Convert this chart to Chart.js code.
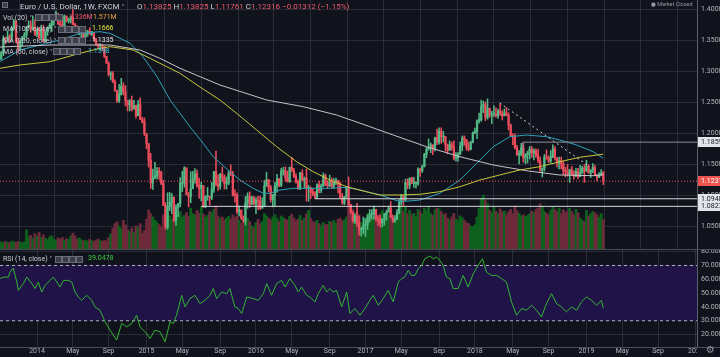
<!DOCTYPE html>
<html><head><meta charset="utf-8">
<script src="https://cdn.jsdelivr.net/npm/chart.js@4.4.0/dist/chart.umd.min.js"></script>
<style>
html,body{margin:0;padding:0;background:#11131c;}
#wrap{position:relative;width:720px;height:357px;overflow:hidden;background:#11131c;font-family:Roboto,"DejaVu Sans",sans-serif;}
canvas{position:absolute;left:0;}
#c1{top:0}
#c2{top:250px}
.t{position:absolute;white-space:nowrap;font-size:7px;line-height:9px;color:#c9ccd4;}
.b{position:absolute;width:5px;height:5px;background:#3b3e49;border:1px solid #6a6d78;}
.r{color:#f05a6a}
</style></head>
<body><div id="wrap">
<canvas id="c1" width="720" height="250"></canvas>
<canvas id="c2" width="720" height="107"></canvas>

<div class="b" style="left:2px;top:2px;width:4px;height:4px"></div>
<div class="t" style="left:20px;top:2px;font-size:8px;color:#d1d4dc">Euro / U.S. Dollar, 1W, FXCM <span style="font-size:6px">˅</span></div>
<div class="t" style="left:137px;top:2px;font-size:8px;color:#d1d4dc">O<span class="r">1.13825</span> H<span class="r">1.13825</span> L<span class="r">1.11761</span> C<span class="r">1.12316</span> <span class="r">−0.01312 (−1.15%)</span></div>
<div class="t" style="left:651px;top:0px;font-size:5.5px;color:#9598a1">● Market Closed</div>

<div class="t" style="left:3px;top:12.5px">Vol (20) <span style="font-size:6px">˅</span></div>
<div class="b" style="left:35px;top:14px"></div><div class="b" style="left:42px;top:14px"></div><div class="b" style="left:49px;top:14px"></div><div class="b" style="left:56px;top:14px"></div>
<div class="t r" style="left:69px;top:12.5px">1.336M</div>
<div class="t" style="left:93px;top:12.5px;color:#e8a33c">1.571M</div>

<div class="t" style="left:3px;top:24px">MA (100, close) <span style="font-size:6px">˅</span></div>
<div class="b" style="left:58px;top:25.5px"></div><div class="b" style="left:65px;top:25.5px"></div><div class="b" style="left:72px;top:25.5px"></div><div class="b" style="left:79px;top:25.5px"></div>
<div class="t" style="left:92px;top:24px;color:#e6e63a">1.1666</div>

<div class="t" style="left:3px;top:35.5px">MA (200, close) <span style="font-size:6px">˅</span></div>
<div class="b" style="left:58px;top:37px"></div><div class="b" style="left:65px;top:37px"></div><div class="b" style="left:72px;top:37px"></div><div class="b" style="left:79px;top:37px"></div>
<div class="t" style="left:92px;top:35.5px;color:#e8e8e8">1.1335</div>

<div class="t" style="left:3px;top:46.5px">MA (50, close) <span style="font-size:6px">˅</span></div>
<div class="b" style="left:53px;top:48px"></div><div class="b" style="left:60px;top:48px"></div><div class="b" style="left:67px;top:48px"></div><div class="b" style="left:74px;top:48px"></div>
<div class="t" style="left:88px;top:46.5px;color:#3cc6e0">1.1598</div>

<div class="t" style="left:3px;top:254px">RSI (14, close) <span style="font-size:6px">˅</span></div>
<div class="b" style="left:55px;top:255.5px"></div><div class="b" style="left:62px;top:255.5px"></div><div class="b" style="left:69px;top:255.5px"></div><div class="b" style="left:76px;top:255.5px"></div>
<div class="t" style="left:88px;top:254px;color:#3ccc3c">39.0478</div>
<div class="t" style="left:706px;top:345px;font-size:10px;color:#9598a1">⚙</div>
</div>
<script>
// ---------- DATA ----------
const firstWeek = -17; // week index of first candle (weeks counted from 6 Jan 2014)
const opens = [1.3190,1.3296,1.3525,1.3524,1.3555,1.3545,1.3685,1.3805,1.3485,1.3365,1.3495,1.3555,1.3590,1.3705,1.3740,1.3675,1.3705,
1.3590,1.3670,1.3540,1.3680,1.3485,1.3635,1.3690,1.3740,1.3805,1.3910,1.3915,1.3760,1.3750,1.3705,1.3890,1.3810,1.3830,1.3870,1.3755,1.3695,1.3630,1.3635,1.3645,1.3545,1.3605,1.3645,1.3595,1.3605,1.3525,1.3430,1.3410,1.3410,1.3400,1.3240,1.3130,1.2950,1.2965,1.2830,1.2685,1.2525,1.2630,1.2760,1.2670,1.2525,1.2455,1.2525,1.2390,1.2450,1.2285,1.2465,1.2225,1.2190,
1.2000,1.1840,1.1565,1.1205,1.1290,1.1315,1.1390,1.1380,1.1195,1.0840,1.0495,1.0825,1.0890,1.0970,1.0600,1.0810,1.0870,1.1200,1.1200,1.1445,1.1015,1.0985,1.1110,1.1265,1.1350,1.1165,1.1110,1.1165,1.0830,1.0985,1.0985,1.0965,1.1105,1.1385,1.1185,1.1150,1.1340,1.1295,1.1195,1.1205,1.1360,1.1350,1.1015,1.1005,1.0740,1.0770,1.0645,1.0590,1.0880,1.0990,1.0865,1.0965,
1.0865,1.0925,1.0915,1.0795,1.0830,1.1155,1.1255,1.1130,1.0935,1.1005,1.1155,1.1270,1.1165,1.1390,1.1400,1.1285,1.1225,1.1455,1.1405,1.1310,1.1225,1.1115,1.1365,1.1255,1.1275,1.1115,1.1135,1.1050,1.1040,1.0975,1.1175,1.1085,1.1160,1.1325,1.1185,1.1155,1.1235,1.1155,1.1225,1.1240,1.1200,1.0970,1.0880,1.0985,1.1140,1.0855,1.0735,1.0590,1.0665,1.0565,1.0450,1.0455,
1.0520,1.0535,1.0645,1.0700,1.0700,1.0780,1.0640,1.0615,1.0560,1.0620,1.0700,1.0735,1.0800,1.0650,1.0595,1.0615,1.0725,1.0895,1.0995,1.0930,1.1210,1.1165,1.1280,1.1195,1.1195,1.1195,1.1425,1.1400,1.1470,1.1665,1.1750,1.1775,1.1820,1.1760,1.1925,1.1860,1.2035,1.1945,1.1950,1.1815,1.1730,1.1820,1.1785,1.1605,1.1610,1.1665,1.1795,1.1930,1.1895,1.1775,1.1745,1.1860,
1.2005,1.2030,1.2200,1.2220,1.2425,1.2460,1.2255,1.2405,1.2295,1.2310,1.2310,1.2285,1.2355,1.2325,1.2280,1.2330,1.2290,1.2130,1.1960,1.1940,1.1770,1.1655,1.1660,1.1770,1.1605,1.1655,1.1685,1.1745,1.1685,1.1720,1.1655,1.1565,1.1410,1.1440,1.1620,1.1600,1.1555,1.1625,1.1750,1.1605,1.1525,1.1560,1.1510,1.1405,1.1385,1.1335,1.1415,1.1340,1.1315,1.1385,1.1305,1.1370,1.1440,1.1395,1.1470,1.1365,1.1410,1.1455,1.1325,1.1295,1.1335,1.13825];
const highs = [1.3320,1.3569,1.3545,1.3645,1.3590,1.3705,1.3833,1.3810,1.3530,1.3505,1.3560,1.3620,1.3720,1.3810,1.3810,1.3890,1.3830,
1.3690,1.3705,1.3740,1.3740,1.3645,1.3715,1.3770,1.3825,1.3915,1.3967,1.3935,1.3835,1.3810,1.3905,1.3880,1.3855,1.3888,1.3993,1.3770,1.3735,1.3670,1.3670,1.3650,1.3640,1.3660,1.3700,1.3640,1.3625,1.3530,1.3445,1.3445,1.3435,1.3375,1.3230,1.3150,1.2995,1.2995,1.2860,1.2695,1.2790,1.2885,1.2815,1.2770,1.2535,1.2545,1.2600,1.2530,1.2455,1.2530,1.2570,1.2260,1.2250,
1.1965,1.1825,1.1680,1.1425,1.1535,1.1450,1.1450,1.1390,1.1245,1.0890,1.1045,1.1050,1.1035,1.0980,1.0850,1.0870,1.1290,1.1390,1.1465,1.1445,1.1050,1.1385,1.1390,1.1435,1.1410,1.1280,1.1215,1.1120,1.0995,1.1130,1.0990,1.1215,1.1390,1.1715,1.1335,1.1360,1.1460,1.1335,1.1300,1.1390,1.1495,1.1390,1.1095,1.1045,1.0830,1.0760,1.0675,1.0985,1.1045,1.1060,1.0990,1.0990,
1.0970,1.0990,1.0990,1.0965,1.1245,1.1375,1.1260,1.1165,1.1020,1.1215,1.1340,1.1275,1.1440,1.1455,1.1465,1.1395,1.1460,1.1615,1.1440,1.1350,1.1250,1.1375,1.1415,1.1300,1.1425,1.1165,1.1120,1.1120,1.1065,1.1190,1.1235,1.1185,1.1365,1.1345,1.1240,1.1330,1.1285,1.1275,1.1280,1.1250,1.1215,1.1035,1.0985,1.1145,1.1300,1.0860,1.0740,1.0705,1.0875,1.0670,1.0490,1.0655,
1.0625,1.0685,1.0775,1.0775,1.0830,1.0775,1.0680,1.0680,1.0630,1.0715,1.0765,1.0830,1.0905,1.0690,1.0680,1.0775,1.0935,1.1020,1.1000,1.1265,1.1270,1.1285,1.1295,1.1295,1.1225,1.1445,1.1440,1.1490,1.1680,1.1775,1.1910,1.1845,1.1805,1.1940,1.2070,1.2090,1.2090,1.2035,1.1950,1.1830,1.1880,1.1860,1.1880,1.1690,1.1690,1.1860,1.1960,1.1960,1.1905,1.1860,1.1875,1.2025,
1.2085,1.2220,1.2325,1.2535,1.2520,1.2505,1.2555,1.2405,1.2355,1.2445,1.2410,1.2390,1.2475,1.2365,1.2395,1.2415,1.2330,1.2150,1.1995,1.1995,1.1810,1.1725,1.1840,1.1850,1.1675,1.1715,1.1790,1.1790,1.1750,1.1750,1.1745,1.1620,1.1445,1.1660,1.1735,1.1640,1.1720,1.1815,1.1790,1.1610,1.1620,1.1620,1.1550,1.1455,1.1500,1.1425,1.1470,1.1400,1.1440,1.1440,1.1485,1.1470,1.1500,1.1570,1.1495,1.1415,1.1515,1.1485,1.1340,1.1370,1.1420,1.13825];
const lows = [1.3190,1.3250,1.3440,1.3480,1.3465,1.3490,1.3665,1.3460,1.3295,1.3360,1.3400,1.3500,1.3540,1.3700,1.3625,1.3660,1.3570,
1.3550,1.3520,1.3510,1.3475,1.3475,1.3575,1.3680,1.3640,1.3740,1.3830,1.3750,1.3705,1.3675,1.3710,1.3795,1.3775,1.3775,1.3750,1.3645,1.3615,1.3585,1.3503,1.3525,1.3540,1.3560,1.3590,1.3570,1.3490,1.3420,1.3365,1.3335,1.3330,1.3220,1.3125,1.2920,1.2860,1.2815,1.2680,1.2500,1.2500,1.2615,1.2620,1.2440,1.2360,1.2360,1.2360,1.2395,1.2245,1.2280,1.2220,1.2165,1.1965,
1.1755,1.1460,1.1115,1.1100,1.1270,1.1270,1.1260,1.1175,1.0840,1.0460,1.0460,1.0760,1.0710,1.0580,1.0520,1.0660,1.0820,1.1065,1.1135,1.1010,1.0820,1.0885,1.1130,1.1200,1.1135,1.0955,1.0915,1.0810,1.0805,1.0925,1.0850,1.0935,1.1050,1.1155,1.1085,1.1105,1.1225,1.1105,1.1105,1.1175,1.1320,1.0990,1.0895,1.0705,1.0675,1.0615,1.0560,1.0525,1.0795,1.0805,1.0850,1.0850,
1.0710,1.0775,1.0775,1.0805,1.0820,1.1150,1.1060,1.0895,1.0820,1.0825,1.1055,1.1145,1.1145,1.1330,1.1235,1.1215,1.1215,1.1385,1.1290,1.1200,1.1100,1.1095,1.1235,1.1130,1.0910,1.0910,1.0950,1.1000,1.0950,1.0950,1.1045,1.1045,1.1145,1.1160,1.1120,1.1145,1.1120,1.1120,1.1175,1.1045,1.0970,1.0860,1.0855,1.0955,1.0850,1.0705,1.0570,1.0550,1.0505,1.0365,1.0350,1.0390,
1.0340,1.0455,1.0580,1.0620,1.0620,1.0590,1.0520,1.0495,1.0495,1.0525,1.0605,1.0735,1.0650,1.0570,1.0570,1.0640,1.0705,1.0850,1.0840,1.0920,1.1110,1.1110,1.1195,1.1130,1.1120,1.1165,1.1310,1.1370,1.1460,1.1610,1.1730,1.1690,1.1660,1.1720,1.1820,1.1825,1.1840,1.1860,1.1715,1.1670,1.1725,1.1730,1.1575,1.1555,1.1555,1.1665,1.1720,1.1810,1.1730,1.1715,1.1735,1.1845,
1.1995,1.1915,1.2165,1.2195,1.2335,1.2205,1.2230,1.2260,1.2155,1.2270,1.2260,1.2240,1.2290,1.2215,1.2290,1.2285,1.2055,1.1950,1.1820,1.1750,1.1645,1.1510,1.1640,1.1540,1.1510,1.1525,1.1590,1.1615,1.1575,1.1615,1.1530,1.1390,1.1300,1.1395,1.1585,1.1530,1.1525,1.1610,1.1570,1.1460,1.1430,1.1430,1.1335,1.1300,1.1315,1.1215,1.1325,1.1265,1.1305,1.1270,1.1355,1.1355,1.1215,1.1390,1.1360,1.1290,1.1370,1.1320,1.1235,1.1290,1.1325,1.11761];
const closes = [1.3296,1.3525,1.3524,1.3555,1.3545,1.3685,1.3805,1.3485,1.3365,1.3495,1.3555,1.3590,1.3705,1.3740,1.3675,1.3705,1.3590,
1.3670,1.3540,1.3680,1.3485,1.3635,1.3690,1.3740,1.3805,1.3910,1.3915,1.3760,1.3750,1.3705,1.3890,1.3810,1.3830,1.3870,1.3755,1.3695,1.3630,1.3635,1.3645,1.3545,1.3605,1.3645,1.3595,1.3605,1.3525,1.3430,1.3410,1.3410,1.3400,1.3240,1.3130,1.2950,1.2965,1.2830,1.2685,1.2525,1.2630,1.2760,1.2670,1.2525,1.2455,1.2525,1.2390,1.2450,1.2285,1.2465,1.2225,1.2190,1.2000,
1.1840,1.1565,1.1205,1.1290,1.1315,1.1390,1.1380,1.1195,1.0840,1.0495,1.0825,1.0890,1.0970,1.0600,1.0810,1.0870,1.1200,1.1200,1.1445,1.1015,1.0985,1.1110,1.1265,1.1350,1.1165,1.1110,1.1165,1.0830,1.0985,1.0985,1.0965,1.1105,1.1385,1.1185,1.1150,1.1340,1.1295,1.1195,1.1205,1.1360,1.1350,1.1015,1.1005,1.0740,1.0770,1.0645,1.0590,1.0880,1.0990,1.0865,1.0965,1.0865,
1.0925,1.0915,1.0795,1.0830,1.1155,1.1255,1.1130,1.0935,1.1005,1.1155,1.1270,1.1165,1.1390,1.1400,1.1285,1.1225,1.1455,1.1405,1.1310,1.1225,1.1115,1.1365,1.1255,1.1275,1.1115,1.1135,1.1050,1.1040,1.0975,1.1175,1.1085,1.1160,1.1325,1.1185,1.1155,1.1235,1.1155,1.1225,1.1240,1.1200,1.0970,1.0880,1.0985,1.1140,1.0855,1.0735,1.0590,1.0665,1.0565,1.0450,1.0455,1.0520,
1.0535,1.0645,1.0700,1.0700,1.0780,1.0640,1.0615,1.0560,1.0620,1.0700,1.0735,1.0800,1.0650,1.0595,1.0615,1.0725,1.0895,1.0995,1.0930,1.1210,1.1165,1.1280,1.1195,1.1195,1.1195,1.1425,1.1400,1.1470,1.1665,1.1750,1.1775,1.1820,1.1760,1.1925,1.1860,1.2035,1.1945,1.1950,1.1815,1.1730,1.1820,1.1785,1.1605,1.1610,1.1665,1.1795,1.1930,1.1895,1.1775,1.1745,1.1860,1.2005,
1.2030,1.2200,1.2220,1.2425,1.2460,1.2255,1.2405,1.2295,1.2310,1.2310,1.2285,1.2355,1.2325,1.2280,1.2330,1.2290,1.2130,1.1960,1.1940,1.1770,1.1655,1.1660,1.1770,1.1605,1.1655,1.1685,1.1745,1.1685,1.1720,1.1655,1.1565,1.1410,1.1440,1.1620,1.1600,1.1555,1.1625,1.1750,1.1605,1.1525,1.1560,1.1510,1.1405,1.1385,1.1335,1.1415,1.1340,1.1315,1.1385,1.1305,1.1370,1.1440,1.1395,1.1470,1.1365,1.1410,1.1455,1.1325,1.1295,1.1335,1.1363,1.12316];
const volumes = [0.32,0.30,0.34,0.31,0.29,0.36,0.33,0.30,0.35,0.31,0.28,0.33,
0.86,0.55,0.62,0.48,0.70,0.58,0.75,0.52,0.64,
0.48,0.42,0.55,0.60,0.45,0.38,0.50,0.44,0.52,0.40,0.47,0.43,
0.58,0.72,0.60,0.45,0.50,
0.42,0.38,0.40,0.36,0.44,0.38,0.35,0.40,0.45,0.38,
0.34,0.40,0.36,0.52,0.68,
0.95,1.15,1.24,1.05,0.92,1.30,1.10,0.88,
0.80,0.95,0.75,1.05,0.98,1.15,0.70,0.85,
1.35,1.77,1.60,1.45,1.30,1.20,1.10,
1.00,1.55,1.70,1.62,
1.50,1.35,1.40,1.62,1.55,1.70,1.45,1.52,1.65,
1.48,1.85,1.60,1.55,1.75,1.62,1.90,1.58,1.45,1.52,1.70,1.65,1.80,
1.95,1.50,1.38,1.45,1.32,1.40,1.48,1.36,1.55,1.42,1.50,
1.30,1.18,1.10,1.45,1.38,1.25,1.05,0.95,1.20,1.35,1.15,
1.25,1.60,1.50,1.40,1.32,
1.45,1.55,1.38,1.25,1.50,1.42,1.35,1.30,1.48,1.58,1.40,1.28,1.35,1.52,1.30,
1.40,1.60,1.75,1.38,1.25,1.20,1.30,
1.15,1.05,1.20,1.10,1.12,
1.25,1.22,1.30,1.18,1.35,1.40,1.28,1.32,
1.45,2.15,2.05,1.80,1.60,
1.70,1.55,1.20,1.05,1.40,1.62,1.50,1.35,1.45,
1.50,1.38,1.60,1.75,1.45,1.65,1.55,1.80,1.42,1.35,1.60,
1.85,1.95,1.70,1.90,1.60,1.75,
1.55,1.62,1.48,1.80,1.70,1.58,1.85,1.75,1.90,1.60,1.52,1.78,1.85,
1.82,1.70,1.55,1.60,1.40,1.30,1.45,1.62,1.35,1.28,1.50,1.42,1.30,1.20,1.15,1.05,
1.00,1.10,1.45,
1.85,2.30,2.45,2.20,2.05,
1.75,1.65,1.90,1.70,1.60,1.82,1.68,1.72,
1.55,1.70,1.80,1.60,1.95,1.75,1.62,1.50,1.55,1.48,1.52,
1.60,1.72,1.65,1.80,1.85,2.05,1.95,1.70,1.62,
1.55,1.75,1.90,1.80,1.70,1.85,1.60,1.78,1.65,1.72,
1.85,1.70,1.55,1.80,1.65,1.40,1.30,1.25,1.75,1.50,1.60,1.70,
1.65,1.55,1.45,1.60,1.336];

const ma50Weeks = [-17.6,-8.1,10.9,20.4,29.9,34.7,44.2,50.3,57.0,63.2,67.9,72.6,78.9,83.7,91.6,96.4,102.7,107.5,110.6,115.4,121.7,129.6,139.1,147.1,153.4,162.9,172.4,181.9,191.4,200.9,208.8,216.7,224.6,232.5,242.0,248.3,256.3,264.2,269];
const ma50Values = [1.3153,1.3341,1.3502,1.3609,1.3635,1.3609,1.3449,1.3233,1.2912,1.2537,1.2323,1.2108,1.1841,1.1625,1.1384,1.1251,1.1117,1.1037,1.1037,1.1090,1.1117,1.1117,1.1117,1.1133,1.1090,1.1010,1.0902,1.0929,1.1037,1.1251,1.1519,1.1786,1.1947,1.1974,1.1947,1.1894,1.1814,1.1706,1.1598];
const ma100Weeks = [-17.6,-8.1,6.2,20.4,29.9,34.7,45.6,53.7,61.6,67.9,77.4,86.9,94.8,104.3,113.8,123.3,131.2,139.1,147.1,158.1,162.9,172.4,181.9,191.4,200.9,210.4,219.8,229.3,238.8,248.3,257.8,269];
const ma100Values = [1.3047,1.3100,1.3153,1.3288,1.3368,1.3394,1.3341,1.3207,1.3072,1.2966,1.2746,1.2537,1.2323,1.2055,1.1786,1.1545,1.1384,1.1251,1.1143,1.1047,1.1010,1.1010,1.1021,1.1063,1.1143,1.1251,1.1331,1.1412,1.1465,1.1545,1.1616,1.1666];
const ma200Weeks = [-17.6,6.2,18.9,34.7,48.9,58.4,67.9,86.9,109.1,126.5,142.3,158.1,169.2,185.0,200.9,216.7,232.5,248.3,264.2,269];
const ma200Values = [1.3389,1.3421,1.3421,1.3421,1.3341,1.3207,1.3047,1.2778,1.2537,1.2429,1.2296,1.2108,1.1974,1.1786,1.1625,1.1492,1.1400,1.1331,1.1320,1.1335];

const rsiWeeks = [-17.5,-16.0,-13.6,-12.8,-11.3,-9.6,-8.9,-6.5,-4.9,-2.5,-0.9,0.6,2.2,3.8,6.2,7.7,9.4,10.9,12.5,14.9,16.5,18.0,19.6,21.2,23.6,26.0,27.5,29.9,32.3,34.7,37.8,40.2,42.6,45.0,47.3,48.9,51.3,53.7,56.0,58.4,60.8,63.2,64.7,66.3,68.7,70.3,72.6,75.0,77.4,79.8,82.1,83.7,85.3,87.7,90.1,91.6,94.0,95.6,97.2,99.6,102.7,105.1,107.5,109.1,111.4,113.8,116.2,117.8,120.1,122.5,124.1,125.7,128.1,129.6,132.0,133.6,135.9,137.6,139.1,140.7,142.3,144.7,147.1,148.6,151.0,153.4,155.7,158.1,159.7,162.1,164.4,166.8,169.2,171.6,173.2,174.7,176.3,177.9,179.5,181.1,182.7,184.2,186.6,188.2,189.8,191.4,192.9,194.5,196.1,197.7,200.0,202.4,204.8,207.2,209.5,211.6,213.5,215.9,218.3,220.7,223.0,225.4,227.8,230.2,232.5,234.9,237.3,239.6,242.0,244.4,246.8,249.1,251.5,253.9,256.3,258.6,261.0,263.4,265.8,268.1,269];
const rsiValues = [60.5,61.6,61.6,65.2,68.1,58.0,52.0,56.9,61.6,56.9,53.3,58.0,50.8,55.6,59.2,61.6,58.0,54.4,59.2,59.2,58.0,50.8,47.2,44.8,48.4,44.8,40.0,37.6,29.2,23.2,16.0,28.0,25.6,28.0,34.0,25.6,22.0,17.2,23.2,22.0,14.8,29.2,28.0,34.0,48.4,40.0,46.0,48.4,42.4,44.8,48.4,53.3,46.0,50.8,49.6,53.3,40.0,38.8,35.2,47.2,46.0,44.8,49.6,56.9,48.4,56.9,59.2,54.4,60.5,55.6,50.8,54.4,48.4,47.2,43.6,49.6,55.6,50.8,53.3,50.8,52.0,40.0,50.8,35.2,38.8,34.0,38.8,44.8,48.4,41.2,46.0,52.0,43.6,58.0,60.5,61.6,66.5,62.8,62.8,67.7,70.0,74.9,76.8,74.9,76.1,73.7,70.0,61.6,60.5,53.3,53.3,62.8,54.4,64.0,70.0,74.9,65.2,62.8,62.8,60.5,58.0,43.6,34.0,38.8,37.6,41.2,37.6,32.8,42.4,49.6,42.4,40.0,36.4,40.0,37.6,43.6,47.2,44.8,41.2,44.8,39.05];
const rsiBands = [30, 70];

const tickWeeks = [0,17,34,52,69,87,104,121,139,156,173,191,208,226,243,261,278,295,313];
const tickLabels = ["2014","May","Sep","2015","May","Sep","2016","May","Sep","2017","May","Sep","2018","May","Sep","2019","May","Sep","2020"];
const priceTicks = [1.05,1.10,1.15,1.20,1.25,1.30,1.35,1.40];
const rsiTicks = [20,30,40,50,60,70,80];

const levelValues = [1.18594, 1.09489, 1.08271, 1.12316];
const levelStartWeeks = [230.8, 132, 77.9, -17.6];
const boxCornerValue = 1.168;
const trendWeeks = [219.8, 262.6];
const trendValues = [1.2489, 1.1463];

// ---------- VIEW ----------
const xMin = -17.6, xMax = 313.5;
const priceMin = 1.01415, priceMax = 1.41447;
const rsiMin = 11, rsiMax = 81.2;
const volMax = 11.3;
const GRID = 'rgba(140,145,170,0.20)', AX = '#b2b5be', FONT = 'Roboto';
Chart.defaults.font.family = FONT;
Chart.defaults.animation = false;

const weeks = closes.map((_, i) => firstWeek + i);
const isUp = closes.map((c, i) => c >= opens[i]);
const candleCol = isUp.map(u => u ? '#53b987' : '#eb4d5c');
const volCol = isUp.map(u => u ? '#0e611d' : '#6e2a3b');
const pts = (ws, vs) => ws.map((w, i) => ({x: w, y: vs[i]}));

const levelLineStyle = [
  {color:'#8d909a', dash:[]}, {color:'#d8d8dc', dash:[]}, {color:'#d8d8dc', dash:[]}, {color:'#ef5350', dash:[1,2]}
];
const levelBoxStyle = [
  {bg:'#e3e5ea', fg:'#131722'}, {bg:'#e3e5ea', fg:'#131722'}, {bg:'#e3e5ea', fg:'#131722'}, {bg:'#ef5350', fg:'#ffffff'}
];

const levelDatasets = levelValues.map((v, i) => {
  const d = [{x: levelStartWeeks[i], y: v}, {x: xMax, y: v}];
  if (i === 0) d.unshift({x: levelStartWeeks[i], y: boxCornerValue});
  return {type:'line', data:d, borderColor:levelLineStyle[i].color, borderDash:levelLineStyle[i].dash,
    borderWidth:1, pointRadius:0, order:0, yAxisID:'y'};
});

const makeX = () => ({
  type:'linear', min:xMin, max:xMax, offset:false,
  afterBuildTicks: s => { s.ticks = tickWeeks.map(v => ({value:v})); },
  ticks:{display:false}, grid:{color:GRID, drawTicks:false}, border:{display:false}
});
const makeY = (min, max, tickVals) => ({
  type:'linear', position:'right', min, max,
  afterBuildTicks: s => { s.ticks = tickVals.map(v => ({value:v})); },
  afterFit: s => { s.width = 23; },
  ticks:{display:false}, grid:{color:GRID, drawTicks:false}, border:{display:true, color:'#5d606b'}
});
// draws the right-hand axis labels from the scale (keeps plot area free of label padding)
function drawYLabels(chart, tickVals, digits){
  const ctx = chart.ctx, ys = chart.scales.y, a = chart.chartArea;
  ctx.save();
  ctx.fillStyle = AX; ctx.font = '7px ' + FONT; ctx.textAlign = 'left'; ctx.textBaseline = 'middle';
  tickVals.forEach(v => ctx.fillText(v.toFixed(digits), a.right + 4, ys.getPixelForValue(v)));
  ctx.restore();
}

const mainOverlay = {
  id:'mainOverlay',
  afterDraw(chart){
    drawYLabels(chart, priceTicks, 5);
    const ctx = chart.ctx, ys = chart.scales.y, a = chart.chartArea;
    ctx.save();
    ctx.strokeStyle = '#4a4e5a'; ctx.lineWidth = 1;
    ctx.beginPath(); ctx.moveTo(0, a.bottom + 0.5); ctx.lineTo(720, a.bottom + 0.5); ctx.stroke();
    ctx.font = '7px ' + FONT; ctx.textBaseline = 'middle'; ctx.textAlign = 'left';
    levelValues.forEach((v, i) => {
      const py = Math.round(ys.getPixelForValue(v));
      ctx.fillStyle = levelBoxStyle[i].bg; ctx.fillRect(a.right + 1, py - 5, 24, 10);
      ctx.fillStyle = levelBoxStyle[i].fg; ctx.fillText(v.toFixed(5), a.right + 4, py + 0.5);
    });
    ctx.restore();
  }
};

new Chart(document.getElementById('c1'), {
  type:'bar',
  data:{ datasets:[
    {type:'line', data:pts(ma100Weeks, ma100Values), borderColor:'#c8c83c', borderWidth:1, pointRadius:0, order:1, yAxisID:'y'},
    {type:'line', data:pts(ma200Weeks, ma200Values), borderColor:'#c4c4c8', borderWidth:1, pointRadius:0, order:1, yAxisID:'y'},
    {type:'line', data:pts(ma50Weeks, ma50Values), borderColor:'#2fa3bb', borderWidth:1, pointRadius:0, order:1, yAxisID:'y'},
    {type:'line', data:pts(trendWeeks, trendValues), borderColor:'#cfd0d6', borderDash:[2,3], borderWidth:1, pointRadius:0, order:0, yAxisID:'y'},
    ...levelDatasets,
    {type:'bar', data:weeks.map((w, i) => ({x:w, y:[opens[i], closes[i]]})), backgroundColor:candleCol,
      barThickness:1.6, minBarLength:1, grouped:false, order:4, yAxisID:'y'},
    {type:'bar', data:weeks.map((w, i) => ({x:w, y:[lows[i], highs[i]]})), backgroundColor:candleCol,
      barThickness:0.9, grouped:false, order:5, yAxisID:'y'},
    {type:'bar', data:weeks.map((w, i) => ({x:w, y:volumes[i]})), backgroundColor:volCol,
      barThickness:2.2, grouped:false, order:10, yAxisID:'yv'}
  ]},
  options:{
    responsive:false, devicePixelRatio:1, animation:false,
    layout:{padding:{left:0, right:0, top:0, bottom:1}, autoPadding:false},
    plugins:{legend:{display:false}, tooltip:{enabled:false}},
    scales:{
      x: makeX(),
      y: makeY(priceMin, priceMax, priceTicks),
      yv:{type:'linear', display:false, min:0, max:volMax}
    }
  },
  plugins:[mainOverlay]
});

const rsiOverlay = {
  id:'rsiOverlay',
  afterDraw(chart){
    drawYLabels(chart, rsiTicks, 4);
    const ctx = chart.ctx, xs = chart.scales.x, a = chart.chartArea;
    ctx.save();
    ctx.strokeStyle = '#4a4e5a'; ctx.lineWidth = 1;
    ctx.beginPath(); ctx.moveTo(0, a.bottom + 0.5); ctx.lineTo(720, a.bottom + 0.5); ctx.stroke();
    ctx.beginPath(); ctx.rect(0, a.bottom + 1, a.right, 12); ctx.clip();
    ctx.fillStyle = AX; ctx.font = '7px ' + FONT; ctx.textAlign = 'center'; ctx.textBaseline = 'middle';
    tickWeeks.forEach((w, i) => ctx.fillText(tickLabels[i], xs.getPixelForValue(w), a.bottom + 4.5));
    ctx.restore();
  }
};

new Chart(document.getElementById('c2'), {
  type:'line',
  data:{ datasets:[
    {data:[{x:xMin, y:rsiBands[1]}, {x:xMax, y:rsiBands[1]}], borderColor:'rgba(205,205,215,0.85)', borderDash:[3,3],
      borderWidth:1, pointRadius:0, fill:{value:rsiBands[0]}, backgroundColor:'#1f1347', order:3},
    {data:[{x:xMin, y:rsiBands[0]}, {x:xMax, y:rsiBands[0]}], borderColor:'rgba(205,205,215,0.85)', borderDash:[3,3],
      borderWidth:1, pointRadius:0, fill:false, order:2},
    {data:pts(rsiWeeks, rsiValues), borderColor:'#33b533', borderWidth:1, pointRadius:0, fill:false, order:1}
  ]},
  options:{
    responsive:false, devicePixelRatio:1, animation:false,
    layout:{padding:{left:0, right:0, top:0, bottom:10}, autoPadding:false},
    plugins:{legend:{display:false}, tooltip:{enabled:false}},
    scales:{
      x: makeX(),
      y: makeY(rsiMin, rsiMax, rsiTicks)
    }
  },
  plugins:[rsiOverlay]
});
</script>
</body></html>
